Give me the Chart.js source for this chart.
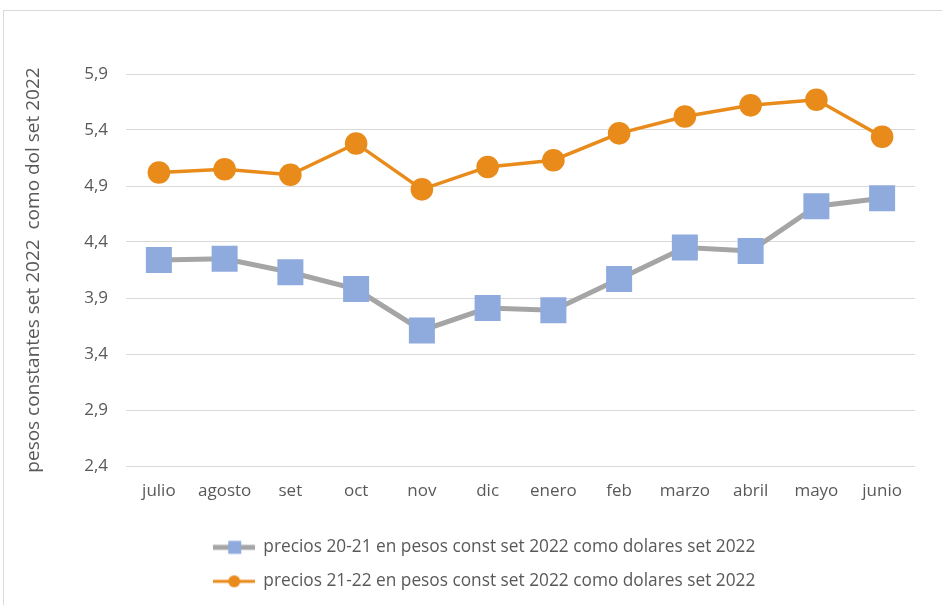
<!DOCTYPE html>
<html><head><meta charset="utf-8">
<script src="https://cdn.jsdelivr.net/npm/chart.js@4.4.1/dist/chart.umd.min.js"></script>
<style>html,body{margin:0;padding:0;background:#fff;}#wrap{width:942px;height:605px;position:relative;}</style>
</head><body><div id="wrap"><canvas id="c" width="942" height="605"></canvas></div>
<script>
const categories = ['julio','agosto','set','oct','nov','dic','enero','feb','marzo','abril','mayo','junio'];
const series2021 = [4.24,4.25,4.13,3.98,3.61,3.81,3.79,4.07,4.35,4.32,4.72,4.79];
const series2122 = [5.02,5.05,5.00,5.28,4.87,5.07,5.13,5.37,5.52,5.62,5.67,5.34];
const yTicks = [2.4,2.9,3.4,3.9,4.4,4.9,5.4,5.9];
const label2021 = 'precios 20-21 en pesos const set 2022 como dolares set 2022';
const label2122 = 'precios 21-22 en pesos const set 2022 como dolares set 2022';
const yTitle = 'pesos constantes set 2022  como dol set 2022';

const GRAY = '#A5A5A5', BLUE = '#8FAADC', ORANGE = '#E98B1A', TXT = '#595959';
const FONT = '"Open Sans", sans-serif';

function legendIcon(kind){
  const c = document.createElement('canvas');
  c.width = 42; c.height = 16;
  const g = c.getContext('2d');
  g.strokeStyle = kind === 'rect' ? GRAY : ORANGE;
  g.lineWidth = kind === 'rect' ? 5 : 3;
  g.beginPath(); g.moveTo(0, 8); g.lineTo(42, 8); g.stroke();
  if (kind === 'rect') { g.fillStyle = BLUE; g.fillRect(15, 1.5, 13, 13); }
  else { g.fillStyle = ORANGE; g.beginPath(); g.arc(21, 8, 6, 0, Math.PI*2); g.fill(); }
  return c;
}
const icons = [legendIcon('rect'), legendIcon('circle')];

const borderPlugin = {
  id: 'outerBorder',
  beforeDraw(chart){
    const g = chart.ctx; g.save();
    g.strokeStyle = '#D9D9D9'; g.lineWidth = 1;
    g.strokeRect(3.5, 10.5, 1200, 1200);
    g.restore();
  },
  afterLayout(chart){
    // center the legend on the whole chart box, as in the reference
    const lg = chart.legend;
    if (lg) { lg.left += 27; lg.right += 27; }
  }
};

new Chart(document.getElementById('c'), {
  type: 'line',
  data: {
    labels: categories,
    datasets: [
      { label: label2021, data: series2021, borderColor: GRAY, borderWidth: 5,
        pointStyle: 'rect', pointRadius: 18.4, pointHoverRadius: 18.4,
        pointBackgroundColor: BLUE, pointBorderColor: BLUE, pointBorderWidth: 0, tension: 0 },
      { label: label2122, data: series2122, borderColor: ORANGE, borderWidth: 3.5,
        pointStyle: 'circle', pointRadius: 11.3, pointHoverRadius: 11.3,
        pointBackgroundColor: ORANGE, pointBorderColor: ORANGE, pointBorderWidth: 0, tension: 0 }
    ]
  },
  options: {
    responsive: false, animation: false, devicePixelRatio: 1,
    layout: { padding: { left: 0, right: 27, top: 74, bottom: 5 } },
    scales: {
      x: {
        offset: true,
        grid: { display: false, drawTicks: false },
        border: { display: false },
        ticks: { color: TXT, font: { family: FONT, size: 17 }, padding: 15 },
        afterFit(s){ s.height = 56; }
      },
      y: {
        min: 2.4, max: 5.9,
        afterBuildTicks(s){ s.ticks = yTicks.map(v => ({ value: v })); },
        grid: { color: '#D9D9D9', lineWidth: 1, drawTicks: false },
        border: { display: false },
        ticks: { color: TXT, font: { family: FONT, size: 17 }, padding: 18,
                 callback: v => v.toFixed(1).replace('.', ',') },
        title: { display: true, text: yTitle, color: TXT, font: { family: FONT, size: 19 },
                 padding: { top: 22, bottom: 0 } },
        afterFit(s){ s.width = 126; }
      }
    },
    plugins: {
      legend: {
        position: 'bottom',
        labels: {
          color: TXT, font: { family: FONT, size: 17.3 }, padding: 16.7,
          usePointStyle: true, pointStyleWidth: 41,
          generateLabels(chart){
            return chart.data.datasets.map((d, i) => ({
              text: d.label, pointStyle: icons[i], fillStyle: 'transparent',
              strokeStyle: 'transparent', lineWidth: 0, datasetIndex: i, fontColor: TXT
            }));
          }
        }
      },
      tooltip: { enabled: false }
    }
  },
  plugins: [borderPlugin]
});
</script></body></html>
